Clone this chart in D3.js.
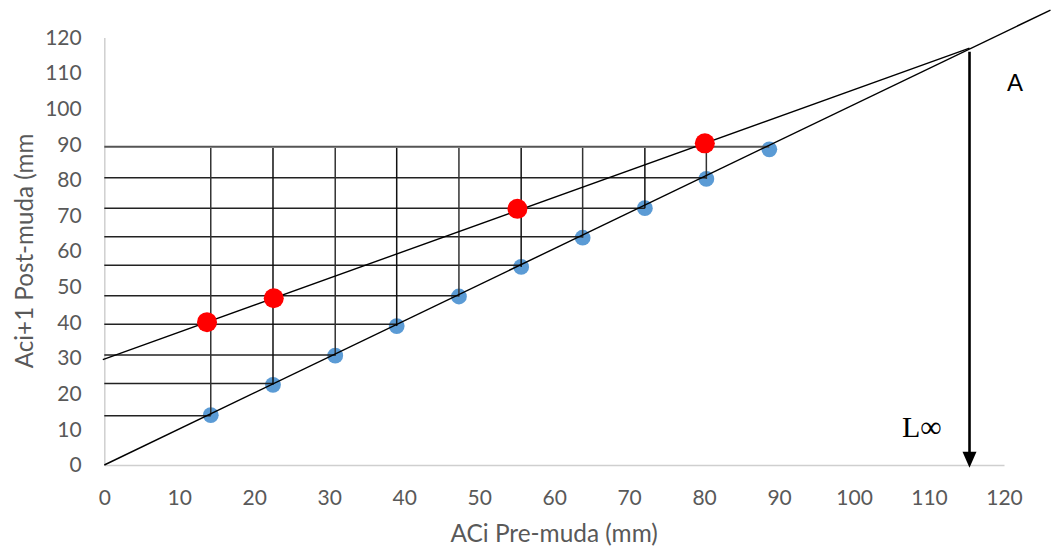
<!DOCTYPE html>
<html>
<head>
<meta charset="utf-8">
<script src="https://cdn.jsdelivr.net/npm/d3@7.9.0/dist/d3.min.js"></script>
<style>
  body { margin: 0; background: #fff; }
  svg { display: block; font-family: Lato, "Open Sans", sans-serif; }
</style>
</head>
<body>
<svg id="chart" width="1051" height="554"></svg>
<script>
// tick labels
const xTicks = [0, 10, 20, 30, 40, 50, 60, 70, 80, 90, 100, 110, 120];
const yTicks = [0, 10, 20, 30, 40, 50, 60, 70, 80, 90, 100, 110, 120];

// blue points (on the 45 degree line)
const blueX = [14.2, 22.5, 30.8, 39.0, 47.3, 55.6, 63.8, 72.1, 80.3, 88.7];
const blueY = [14.0, 22.5, 30.7, 39.0, 47.3, 55.6, 63.8, 72.1, 80.3, 88.6];

// red points
const redX = [13.7, 22.6, 55.1, 80.1];
const redY = [40.1, 46.8, 71.9, 90.3];

// construction lines: horizontals from the y axis to each blue point
const hLineY = [13.8, 22.9, 30.9, 39.5, 47.5, 56.1, 64.1, 72.1, 80.6, 89.35];
// verticals from the top line down to blue points 1..9
const vLineTop = 89.0;

// regression line and diagonal
const regX = [-0.2, 115.4];
const regY = [29.6, 117.0];
const diagX = [0, 126.2];
const diagY = [0, 127.7];

// arrow (L infinity)
const arrowX = 115.4;
const arrowY = [116.0, -0.8];

const svg = d3.select('#chart');

const x = d3.scaleLinear().domain([0, 120]).range([104.3, 1004]);
const y = d3.scaleLinear().domain([0, 120]).range([465, 37.5]);

// axes
const xAxis = svg.append('g')
    .attr('transform', `translate(0,${y(0)})`)
    .call(d3.axisBottom(x).tickValues(xTicks).tickSize(0).tickPadding(25));
const yAxis = svg.append('g')
    .attr('transform', `translate(${x(0)},0)`)
    .call(d3.axisLeft(y).tickValues(yTicks).tickSize(0).tickPadding(22.6));

[xAxis, yAxis].forEach((g) => {
    g.select('.domain').attr('stroke', '#cfcfcf').attr('stroke-width', 1.5);
    g.selectAll('text')
        .attr('fill', '#595959')
        .attr('font-size', 21)
        .attr('font-family', 'Lato, sans-serif');
});

// axis titles
svg.append('text')
    .attr('x', x(60))
    .attr('y', 542)
    .attr('text-anchor', 'middle')
    .attr('font-size', 24.4)
    .attr('fill', '#595959')
    .text('ACi Pre-muda (mm)');

svg.append('text')
    .attr('transform', `translate(33,${251}) rotate(-90)`)
    .attr('text-anchor', 'middle')
    .attr('font-size', 24.2)
    .attr('fill', '#595959')
    .text('Aci+1 Post-muda (mm');

// blue points
svg.append('g').selectAll('circle')
    .data(blueX)
    .join('circle')
    .attr('cx', (d) => x(d))
    .attr('cy', (d, i) => y(blueY[i]))
    .attr('r', 7.9)
    .attr('fill', '#5B9BD5');

// construction lines
const lines = svg.append('g').attr('stroke', '#222').attr('stroke-width', 1.5);

hLineY.forEach((v, i) => {
    lines.append('line')
        .attr('x1', x(0)).attr('x2', x(blueX[i]))
        .attr('y1', y(v)).attr('y2', y(v))
        .attr('stroke', i === hLineY.length - 1 ? '#555' : '#222')
        .attr('stroke-width', i === hLineY.length - 1 ? 2 : 1.5);
});

blueX.slice(0, 9).forEach((v, i) => {
    lines.append('line')
        .attr('x1', x(v)).attr('x2', x(v))
        .attr('y1', y(vLineTop)).attr('y2', y(blueY[i]))
        .attr('stroke', i % 2 === 0 ? '#333' : '#111');
});

lines.append('line')
    .attr('x1', x(regX[0])).attr('y1', y(regY[0]))
    .attr('x2', x(regX[1])).attr('y2', y(regY[1]))
    .attr('stroke', '#000').attr('stroke-width', 1.4);

lines.append('line')
    .attr('x1', x(diagX[0])).attr('y1', y(diagY[0]))
    .attr('x2', x(diagX[1])).attr('y2', y(diagY[1]))
    .attr('stroke', '#000').attr('stroke-width', 1.4);

// red points
svg.append('g').selectAll('circle')
    .data(redX)
    .join('circle')
    .attr('cx', (d) => x(d))
    .attr('cy', (d, i) => y(redY[i]))
    .attr('r', 10)
    .attr('fill', '#FF0000');

// arrow
const tipY = y(arrowY[1]);
svg.append('line')
    .attr('x1', x(arrowX)).attr('x2', x(arrowX))
    .attr('y1', y(arrowY[0])).attr('y2', tipY - 14)
    .attr('stroke', '#000').attr('stroke-width', 2.6);
svg.append('path')
    .attr('d', `M${x(arrowX) - 7},${tipY - 16}L${x(arrowX) + 7},${tipY - 16}L${x(arrowX)},${tipY}Z`)
    .attr('fill', '#000');

// labels
svg.append('text')
    .attr('x', 1015)
    .attr('y', 91)
    .attr('text-anchor', 'middle')
    .attr('font-size', 24)
    .attr('font-family', '"Liberation Sans", sans-serif')
    .attr('fill', '#000')
    .text('A');

svg.append('text')
    .attr('x', 902)
    .attr('y', 437)
    .attr('font-size', 30)
    .attr('font-family', '"Liberation Serif", serif')
    .attr('fill', '#000')
    .text('L∞');
</script>
</body>
</html>
